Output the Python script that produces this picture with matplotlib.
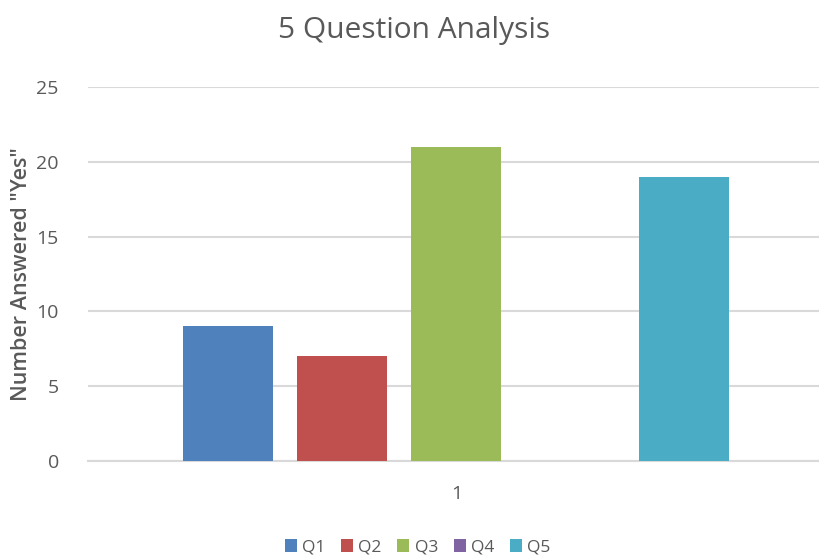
import numpy as np
import matplotlib.pyplot as plt

# Data
category = "1"
series = ["Q1", "Q2", "Q3", "Q4", "Q5"]
values = [9, 7, 21, 0, 19]
colors = ["#4F81BD", "#C0504D", "#9BBB59", "#8064A2", "#4BACC6"]

plt.rcParams['font.family'] = ['Open Sans', 'DejaVu Sans']
grey = "#595959"

fig = plt.figure(figsize=(8.19, 5.6), dpi=100)
ax = fig.add_axes([0.1074, 0.1768, 0.8926, 0.6678])

offsets = np.arange(len(series)) - (len(series) - 1) / 2
for off, v, c, name in zip(offsets, values, colors, series):
    ax.bar(off, v, width=0.79, color=c, label=name, zorder=3)

ax.set_ylim(0, 25)
ax.set_xlim(-3.23, 3.18)
ax.set_yticks(np.arange(0, 26, 5))
ax.set_xticks([0])
ax.set_xticklabels([category])
ax.yaxis.grid(True, color="#d9d9d9", linewidth=1.5, zorder=0)
ax.tick_params(axis='both', length=0, labelsize=14, labelcolor=grey)
ax.tick_params(axis='x', pad=17)
ax.tick_params(axis='y', pad=21)
for s in ['top', 'right', 'left']:
    ax.spines[s].set_visible(False)
ax.spines['bottom'].set_color("#d9d9d9")
ax.spines['bottom'].set_linewidth(1.5)

ax.set_ylabel('Number Answered "Yes"', fontsize=15.5, color=grey,
              fontweight='semibold', labelpad=3)
fig.text(0.505, 0.945, "5 Question Analysis", ha='center', va='center',
         fontsize=21.5, color=grey)

fig.legend(loc='lower center', bbox_to_anchor=(0.51, -0.02), ncol=5,
           frameon=False, fontsize=12.5, labelcolor=grey,
           handlelength=0.7, handleheight=0.7, handletextpad=0.3,
           columnspacing=0.9)

fig.savefig("out.png", dpi=100)
